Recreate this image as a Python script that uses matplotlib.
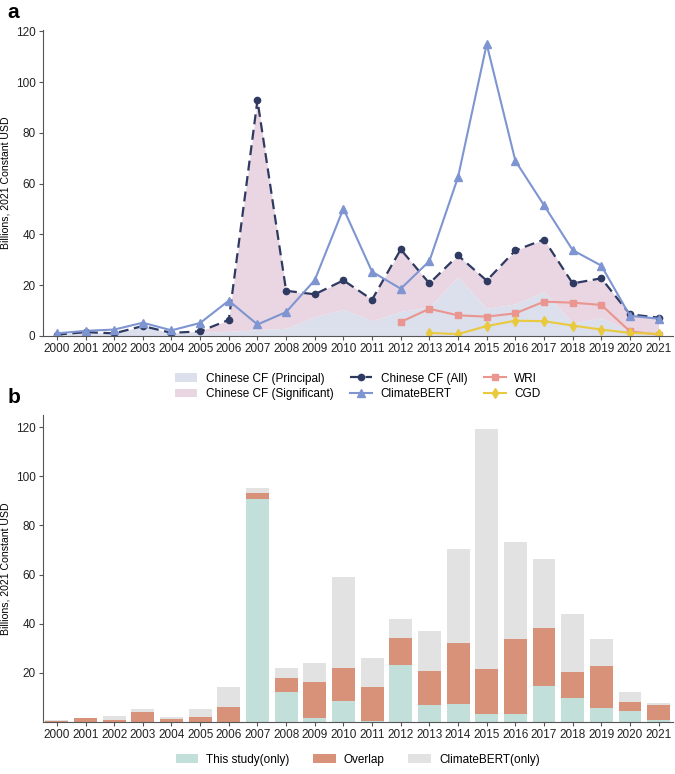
import matplotlib
matplotlib.use("Agg")
import matplotlib.pyplot as plt
import numpy as np

plt.rcParams['font.family'] = ['Liberation Sans', 'DejaVu Sans']
plt.rcParams['font.size'] = 8.5

years = [str(y) for y in range(2000, 2022)]

# panel a
cf_principal = [0.5, 1.5, 1.0, 3.8, 1.0, 1.5, 1.8, 2.5, 3.0, 7.6, 10.5, 6.0,
                9.6, 11.5, 23.3, 10.9, 12.6, 17.4, 5.0, 7.2, 1.7, 1.7]
cf_all = [0.5, 1.5, 1.0, 3.9, 1.2, 1.8, 6.3, 92.9, 17.8, 16.4, 21.9, 14.3,
          34.1, 20.7, 31.7, 21.8, 33.7, 38.0, 20.7, 22.7, 8.5, 7.2]
climatebert = [1.0, 2.0, 2.5, 5.2, 2.2, 5.1, 13.9, 4.5, 9.4, 22.0, 50.2, 25.3,
               18.6, 29.5, 62.6, 115.0, 69.0, 51.5, 33.8, 27.7, 7.9, 6.8]
wri_years = years[12:]
wri = [5.5, 10.7, 8.1, 7.6, 8.9, 13.5, 13.1, 12.2, 1.8, 0.5]
cgd_years = years[13:]
cgd = [1.2, 0.7, 3.9, 6.0, 5.8, 4.1, 2.5, 1.2, 0.8]

# panel b
study_only = [0, 0, 0, 0, 0, 0, 0, 90.7, 12.4, 1.8, 8.6, 0.5,
              23.3, 7.1, 7.5, 3.5, 3.5, 14.5, 9.8, 5.8, 4.4, 1.0]
overlap = [0.5, 1.6, 1.0, 4.0, 1.2, 2.0, 6.3, 2.7, 5.6, 14.7, 13.3, 13.8,
           11.0, 13.7, 24.5, 18.3, 30.2, 23.7, 10.8, 16.9, 3.9, 6.1]
bert_only = [0.25, 0.1, 1.5, 1.4, 0.9, 3.4, 8.0, 1.9, 4.2, 7.7, 37.2, 11.8,
             7.8, 16.2, 38.5, 97.5, 39.4, 28.1, 23.2, 11.2, 3.8, 0.8]

x = np.arange(len(years))

fig = plt.figure(figsize=(6.75, 7.74), dpi=100)
ax1 = fig.add_axes([0.063, 0.566, 0.934, 0.395])
ax2 = fig.add_axes([0.063, 0.067, 0.934, 0.397])

# ---- a ----
ax1.fill_between(x, 0, cf_principal, color='#dcdfec', lw=0, label='Chinese CF (Principal)')
ax1.fill_between(x, cf_principal, cf_all, color='#e9d6e2', lw=0, label='Chinese CF (Significant)')
ax1.plot(x, cf_all, color='#2e3a62', ls='--', lw=1.6, marker='o', ms=4.5,
         dashes=(4.5, 2.5), label='Chinese CF (All)')
ax1.plot(x, climatebert, color='#7e95d2', lw=1.5, marker='^', ms=5.5, label='ClimateBERT')
wri_x = [years.index(y) for y in wri_years]
cgd_x = [years.index(y) for y in cgd_years]
ax1.plot(wri_x, wri, color='#ea958f', lw=1.5, marker='s', ms=5, label='WRI')
ax1.plot(cgd_x, cgd, color='#e9c93e', lw=1.5, marker='d', ms=5.5, label='CGD')

ax1.set_xlim(-0.5, 21.5)
ax1.set_ylim(0, 120.5)
ax1.set_yticks([0, 20, 40, 60, 80, 100, 120])
ax1.set_xticks(x)
ax1.set_xticklabels(years)
ax1.set_ylabel('Billions, 2021 Constant USD', fontsize=7.6, labelpad=4)
ax1.legend(ncol=3, frameon=False,
           loc='upper center', bbox_to_anchor=(0.5, -0.085), handlelength=1.9,
           handletextpad=0.7, columnspacing=1.4, labelspacing=0.3)
ax1.text(-0.055, 1.04, 'a', transform=ax1.transAxes, fontsize=15, fontweight='bold')

# ---- b ----
ax2.bar(x, study_only, width=0.8, color='#c3dfd9', label='This study(only)')
ax2.bar(x, overlap, width=0.8, bottom=study_only, color='#d9927a', label='Overlap')
bottom2 = np.array(study_only) + np.array(overlap)
ax2.bar(x, bert_only, width=0.8, bottom=bottom2, color='#e2e2e2', label='ClimateBERT(only)')
ax2.set_xlim(-0.5, 21.5)
ax2.set_ylim(0, 125)
ax2.set_yticks([20, 40, 60, 80, 100, 120])
ax2.set_xticks(x)
ax2.set_xticklabels(years)
ax2.set_ylabel('Billions, 2021 Constant USD', fontsize=7.6, labelpad=4)
ax2.legend(ncol=3, frameon=False, loc='upper center', bbox_to_anchor=(0.5, -0.068),
           handlelength=1.9, handletextpad=0.7, columnspacing=2.0)
ax2.text(-0.055, 1.04, 'b', transform=ax2.transAxes, fontsize=15, fontweight='bold')

for ax in (ax1, ax2):
    ax.spines['top'].set_visible(False)
    ax.spines['right'].set_visible(False)
    ax.spines['left'].set_color('#555555')
    ax.spines['bottom'].set_color('#555555')
    ax.tick_params(length=3, color='#555555', labelcolor='#222222', pad=2)

fig.savefig('out.png', dpi=100)
